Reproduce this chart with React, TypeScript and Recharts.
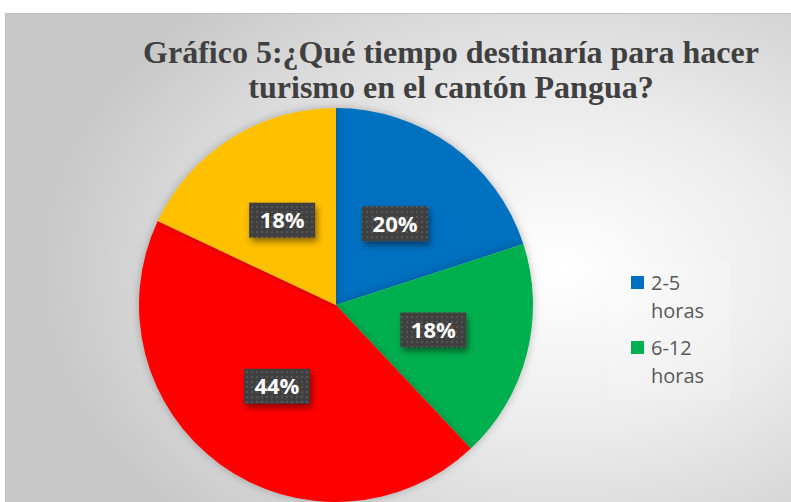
import React from 'react';
import { PieChart, Pie, Cell } from 'recharts';

const categories = ['2-5 horas', '6-12 horas', '13-24 horas', 'Más de 24 horas'];
const percents = [20, 18, 44, 18];
const COLORS = ['#0070C0', '#00B050', '#FF0000', '#FFC000'];
// only these entries fit inside the legend box of the original
const legendVisible = 2;

const data = categories.map((name, i) => ({ name, value: percents[i] }));

const RADIAN = Math.PI / 180;

const renderLabel = (props: any) => {
    const { cx, cy, midAngle, outerRadius, value } = props;
    const r = outerRadius * 0.51;
    const x = cx + r * Math.cos(-midAngle * RADIAN);
    const y = cy + r * Math.sin(-midAngle * RADIAN);
    const w = 66;
    const h = 35;
    return (
        <g>
            <rect x={x - w / 2} y={y - h / 2} width={w} height={h} fill="url(#dots)" filter="url(#boxShadow)" />
            <text x={x} y={y + 8} textAnchor="middle" fill="#ffffff" fontSize={22} fontWeight="bold"
                fontFamily="'Open Sans', 'Liberation Sans', sans-serif">
                {value}%
            </text>
        </g>
    );
};

export default function App() {
    return (
        <div style={{ position: 'absolute', left: 0, top: 0, width: 791, height: 502, overflow: 'hidden', background: '#ffffff' }}>
            {/* chart area frame with radial shading */}
            <div style={{
                position: 'absolute', left: 5, top: 13, width: 820, height: 520,
                border: '1px solid #bfbfbf',
                background: 'radial-gradient(ellipse 520px 360px at 555px 255px, #ffffff 0%, #ececec 45%, #d6d6d6 80%, #c8c8c8 100%)',
            }} />
            <div style={{
                position: 'absolute', left: 100, top: 35, width: 702, textAlign: 'center',
                fontFamily: "'Liberation Serif', 'Times New Roman', serif", fontWeight: 'bold',
                fontSize: 32, lineHeight: '35px', color: '#404040', whiteSpace: 'nowrap',
            }}>
                Gráfico 5:¿Qué tiempo destinaría para hacer<br />turismo en el cantón Pangua?
            </div>
            <div style={{ position: 'absolute', left: 0, top: 0 }}>
                <PieChart width={791} height={502} margin={{ top: 0, right: 0, bottom: 0, left: 0 }}>
                    <defs>
                        <pattern id="dots" width="5" height="5" patternUnits="userSpaceOnUse">
                            <rect width="5" height="5" fill="#3f3f3f" />
                            <rect x="1" y="1" width="2" height="2" fill="#555555" />
                        </pattern>
                        <filter id="boxShadow" x="-30%" y="-30%" width="160%" height="180%">
                            <feDropShadow dx="2" dy="4" stdDeviation="3" floodColor="#000" floodOpacity="0.45" />
                        </filter>
                        <filter id="pieShadow" x="-10%" y="-10%" width="120%" height="120%">
                            <feDropShadow dx="0" dy="0" stdDeviation="4" floodColor="#000" floodOpacity="0.25" />
                        </filter>
                    </defs>
                    <Pie
                        data={data}
                        dataKey="value"
                        nameKey="name"
                        cx={336}
                        cy={305}
                        outerRadius={197}
                        startAngle={90}
                        endAngle={-270}
                        stroke="none"
                        labelLine={false}
                        label={renderLabel}
                        isAnimationActive={false}
                        style={{ filter: 'url(#pieShadow)' }}
                    >
                        {data.map((_, index) => (
                            <Cell key={`cell-${index}`} fill={COLORS[index % COLORS.length]} />
                        ))}
                    </Pie>
                </PieChart>
            </div>
            {/* legend */}
            <div style={{ position: 'absolute', left: 608, top: 262, width: 122, height: 138, background: 'rgba(255,255,255,0.15)' }}>
                {categories.slice(0, legendVisible).map((name, index) => (
                    <div key={name} style={{ display: 'flex', alignItems: 'flex-start', marginTop: index === 0 ? 7 : 9, paddingLeft: 23 }}>
                        <div style={{ width: 13, height: 13, background: COLORS[index], marginTop: 7, marginRight: 7, flexShrink: 0 }} />
                        <div style={{ width: 70, fontSize: 20, lineHeight: '28px', color: '#595959', fontFamily: "'Open Sans', 'Liberation Sans', sans-serif" }}>
                            {name}
                        </div>
                    </div>
                ))}
            </div>
        </div>
    );
}
